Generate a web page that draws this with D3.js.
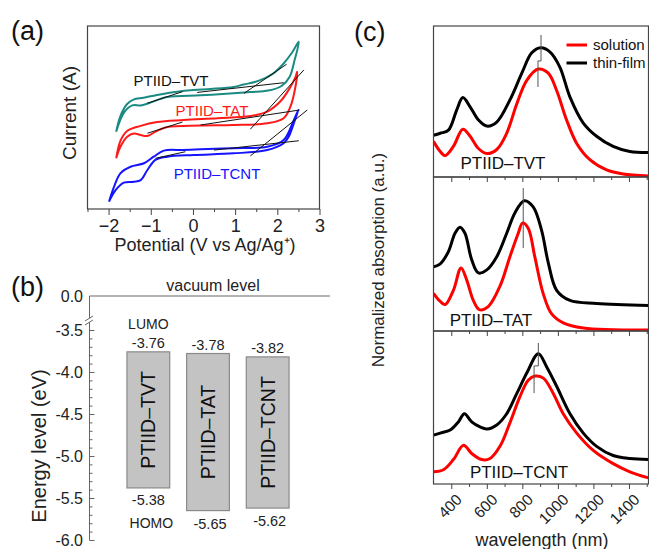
<!DOCTYPE html>
<html><head><meta charset="utf-8">
<script src="https://cdn.jsdelivr.net/npm/d3@7"></script>
<style>body{margin:0;background:#fff}svg{display:block;font-family:"Liberation Sans",Arial,sans-serif}</style>
</head><body>
<svg id="c" width="649" height="549"></svg>
<script>
// ---------- Panel (a): cyclic voltammetry (V, arbitrary current) ----------
const cvTicks = [-2,-1,0,1,2,3];
const tvtForward = [[-1.82,4.22],[-1.72,5.08],[-1.56,5.74],[-1.41,5.98],[-1.17,6.08],[-0.85,6.23],[-0.37,6.41],[0.01,6.50],[0.42,6.56],[0.96,6.67],[1.20,6.80],[1.55,7.00],[1.90,7.40],[2.15,7.95],[2.35,8.55],[2.51,9.14]];
const tvtReverse = [[2.51,9.14],[2.41,8.14],[2.29,7.21],[2.10,6.72],[1.79,6.47],[1.36,6.39],[0.96,6.32],[0.18,6.21],[-0.61,6.12],[-1.05,5.78],[-1.24,5.66],[-1.44,5.66],[-1.64,5.25],[-1.82,4.22]];
const tatForward = [[-1.82,2.77],[-1.72,3.72],[-1.56,4.26],[-1.24,4.54],[-0.85,4.75],[-0.22,4.86],[0.58,4.96],[1.36,5.08],[1.76,5.32],[2.08,5.90],[2.31,6.67],[2.43,7.21],[2.47,7.50]];
const tatReverse = [[2.47,7.50],[2.43,6.68],[2.31,5.59],[2.15,4.96],[1.76,4.68],[0.96,4.59],[0.18,4.56],[-0.61,4.48],[-0.86,4.26],[-1.08,3.99],[-1.24,4.04],[-1.40,4.13],[-1.56,3.95],[-1.72,3.40],[-1.82,2.77]];
const tcntForward = [[-1.99,0.40],[-1.87,1.22],[-1.72,1.95],[-1.48,2.31],[-1.16,2.50],[-0.93,2.86],[-0.69,3.19],[-0.22,3.22],[0.18,3.26],[0.96,3.32],[1.76,3.40],[2.15,3.77],[2.39,4.86],[2.50,5.41]];
const tcntReverse = [[2.50,5.41],[2.39,4.68],[2.27,3.95],[2.15,3.59],[1.76,3.22],[0.96,3.04],[0.02,2.95],[-0.61,2.86],[-0.89,2.68],[-1.08,2.13],[-1.24,1.58],[-1.40,1.49],[-1.64,1.44],[-1.83,1.04],[-1.99,0.40]];
const onsetLines = [
  [[-1.08,5.78],[-0.25,6.41]], [[0.10,6.37],[2.15,6.90]], [[1.21,6.32],[2.22,7.91]],
  [[-1.08,4.14],[-0.25,4.75]], [[0.18,4.59],[2.53,5.41]], [[1.36,4.36],[2.63,7.60]],
  [[-0.89,2.77],[-0.18,3.13]], [[0.50,3.22],[2.51,3.73]], [[1.36,2.90],[2.71,5.41]]
];
const cvNames = ["PTIID\u2013TVT","PTIID\u2013TAT","PTIID\u2013TCNT"];
const cvColors = ["#1b8a82","#ff1a1a","#1414ff"];

// ---------- Panel (b): energy levels ----------
const polymers = ["PTIID\u2013TVT","PTIID\u2013TAT","PTIID\u2013TCNT"];
const lumo = [-3.76,-3.78,-3.82];
const homo = [-5.38,-5.65,-5.62];
const energyTicks = [-3.5,-4.0,-4.5,-5.0,-5.5,-6.0];

// ---------- Panel (c): absorption spectra ----------
const wlTicks = [400,600,800,1000,1200,1400];
const tvtFilmWl = [300,338,384,431,465,506,553,600,656,731,797,853,903,955,1011,1067,1143,1218,1311,1405,1510];
const tvtFilmAbs = [0.41,0.43,0.46,0.66,0.78,0.69,0.56,0.50,0.54,0.76,1.02,1.22,1.27,1.23,1.08,0.79,0.53,0.40,0.30,0.25,0.24];
const tvtSolWl = [300,338,366,412,465,506,553,600,656,712,769,825,890,946,993,1049,1106,1180,1274,1367,1510];
const tvtSolAbs = [0.35,0.25,0.21,0.30,0.47,0.40,0.28,0.23,0.27,0.43,0.72,0.95,1.06,1.02,0.85,0.56,0.33,0.17,0.07,0.03,0.01];
const tatFilmWl = [300,338,384,421,449,477,515,553,600,656,712,758,811,861,908,946,993,1068,1218,1510];
const tatFilmAbs = [0.63,0.66,0.78,0.96,1.02,0.96,0.70,0.57,0.60,0.73,0.96,1.16,1.28,1.22,0.99,0.67,0.40,0.30,0.27,0.25];
const tatSolWl = [300,338,366,412,455,487,524,558,608,674,730,777,801,833,870,917,964,1030,1143,1510];
const tatSolAbs = [0.37,0.29,0.26,0.40,0.62,0.50,0.30,0.21,0.24,0.44,0.73,0.96,1.06,1.01,0.73,0.37,0.17,0.08,0.03,0.01];
const tcntFilmWl = [300,338,394,440,474,515,562,600,656,712,769,825,890,937,993,1068,1143,1218,1311,1405,1510];
const tcntFilmAbs = [0.48,0.50,0.53,0.61,0.69,0.61,0.56,0.54,0.58,0.69,0.89,1.09,1.28,1.15,0.96,0.69,0.50,0.37,0.28,0.25,0.24];
const tcntSolWl = [300,356,412,469,515,571,618,674,730,787,833,871,918,974,1030,1106,1199,1311,1405,1510];
const tcntSolAbs = [0.12,0.14,0.24,0.38,0.30,0.24,0.25,0.37,0.60,0.86,1.02,1.06,1.04,0.89,0.69,0.50,0.33,0.20,0.12,0.06];
// peak markers: [film λ, film top, film bottom, sol λ, sol bottom]
const peakMarks = [[905,1.395,1.14,888,0.884],[805,1.405,1.0,805,0.815],[890,1.385,1.16,866,0.894]];

const svg = d3.select("#c");
const axisCol = "#444";

// ================= Panel (a) =================
{
  const x = d3.scaleLinear([-2.5,3],[87.5,319.5]);
  const y = d3.scaleLinear([0,10],[209,26]);
  const g = svg.append("g");
  g.append("rect").attr("x",87.5).attr("y",26).attr("width",232).attr("height",183)
    .attr("fill","none").attr("stroke",axisCol).attr("stroke-width",1.2);
  const ax = g.append("g").attr("transform","translate(0,209)")
    .call(d3.axisBottom(x).tickValues(cvTicks).tickSize(6).tickPadding(4).tickFormat(d3.format("d")));
  ax.select(".domain").remove();
  ax.selectAll("line").attr("stroke",axisCol);
  ax.selectAll("text").attr("font-size",18).attr("fill","#222").attr("font-family","Liberation Sans, Arial");
  g.append("g").attr("transform","translate(0,209)")
    .call(d3.axisBottom(x).tickValues(d3.range(-2.5,3,1)).tickSize(3).tickFormat(""))
    .call(s=>{s.select(".domain").remove(); s.selectAll("line").attr("stroke",axisCol);});
  const line = d3.line().x(d=>x(d[0])).y(d=>y(d[1])).curve(d3.curveCatmullRom.alpha(0.5));
  const loops = [[tvtForward,tvtReverse],[tatForward,tatReverse],[tcntForward,tcntReverse]];
  loops.forEach((l,i)=>{
    g.append("path").attr("d",line(l[0].concat(l[1].slice(1)))).attr("fill","none")
      .attr("stroke",cvColors[i]).attr("stroke-width",2);
  });
  const ln = d3.line().x(d=>x(d[0])).y(d=>y(d[1]));
  onsetLines.forEach(s=>g.append("path").attr("d",ln(s)).attr("stroke","#111").attr("stroke-width",1).attr("fill","none"));
  const lbl = [[171,86,"#111"],[212,116,"#ff1a1a"],[217,179,"#1414ff"]];
  lbl.forEach((p,i)=>g.append("text").attr("x",p[0]).attr("y",p[1]).attr("text-anchor","middle")
    .attr("font-size",15).attr("fill",p[2]).text(cvNames[i]));
  g.append("text").attr("x",205).attr("y",251).attr("text-anchor","middle").attr("font-size",18).attr("fill","#222")
    .text("Potential (V vs Ag/Ag\u207A)");
  g.append("text").attr("transform","translate(76,113) rotate(-90)").attr("text-anchor","middle")
    .attr("font-size",19).attr("fill","#222").text("Current (A)");
  svg.append("text").attr("x",11).attr("y",40).attr("font-size",27).attr("fill","#111").text("(a)");
}

// ================= Panel (b) =================
{
  const y = d3.scaleLinear([-6,-3.5],[540,330]);
  const g = svg.append("g");
  const ax0 = 89.5;
  g.append("line").attr("x1",ax0).attr("x2",330).attr("y1",296).attr("y2",296).attr("stroke","#9a9a9a").attr("stroke-width",1.5);
  g.append("text").attr("x",213).attr("y",291).attr("text-anchor","middle").attr("font-size",16).attr("fill","#222").text("vacuum level");
  g.append("text").attr("x",83).attr("y",301.5).attr("text-anchor","end").attr("font-size",16).attr("fill","#222").text("0.0");
  g.append("line").attr("x1",ax0).attr("x2",ax0).attr("y1",296).attr("y2",318).attr("stroke","#666");
  g.append("line").attr("x1",ax0).attr("x2",ax0).attr("y1",322).attr("y2",540).attr("stroke","#666");
  g.append("line").attr("x1",85).attr("x2",93).attr("y1",321).attr("y2",316).attr("stroke","#666");
  g.append("line").attr("x1",85).attr("x2",93).attr("y1",325).attr("y2",320).attr("stroke","#666");
  const ay = g.append("g").attr("transform",`translate(${ax0},0)`)
    .call(d3.axisRight(y).tickValues(energyTicks).tickSize(5).tickFormat(""));
  ay.select(".domain").remove(); ay.selectAll("line").attr("stroke","#666");
  const am = g.append("g").attr("transform",`translate(${ax0},0)`)
    .call(d3.axisRight(y).tickValues(d3.range(-6,-3.45,0.1)).tickSize(3).tickFormat(""));
  am.select(".domain").remove(); am.selectAll("line").attr("stroke","#666");
  energyTicks.forEach(v=>g.append("text").attr("x",83).attr("y",y(v)+6).attr("text-anchor","end")
    .attr("font-size",16).attr("fill","#222").text(d3.format(".1f")(v).replace("\u2212","-")));
  g.append("text").attr("transform","translate(46,446) rotate(-90)").attr("text-anchor","middle")
    .attr("font-size",20).attr("fill","#222").text("Energy level (eV)");
  const xb = d3.scaleBand(polymers,[118.5,297.5]).paddingInner(0.2833).paddingOuter(0.1417);
  polymers.forEach((p,i)=>{
    const x0 = xb(p), w = xb.bandwidth(), cx = x0+w/2;
    const yt = y(lumo[i]), yb = y(homo[i]);
    g.append("rect").attr("x",x0).attr("y",yt).attr("width",w).attr("height",yb-yt)
      .attr("fill","#c3c3c3").attr("stroke","#8a8a8a").attr("stroke-width",1.2);
    g.append("text").attr("transform",`translate(${cx+7},${(yt+yb)/2}) rotate(-90)`).attr("text-anchor","middle")
      .attr("font-size",19.5).attr("fill","#111").text(p);
    g.append("text").attr("x",cx).attr("y",yt-4).attr("text-anchor","middle").attr("font-size",14.5).attr("fill","#222").text(lumo[i].toFixed(2));
    g.append("text").attr("x",cx+(i==0?0:2)).attr("y",i==0?yb+17:yb+18).attr("text-anchor","middle").attr("font-size",14.5).attr("fill","#222").text(homo[i].toFixed(2));
  });
  const c0 = xb(polymers[0])+xb.bandwidth()/2;
  g.append("text").attr("x",c0).attr("y",329).attr("text-anchor","middle").attr("font-size",14).attr("fill","#222").text("LUMO");
  g.append("text").attr("x",c0+3).attr("y",528).attr("text-anchor","middle").attr("font-size",14).attr("fill","#222").text("HOMO");
  svg.append("text").attr("x",11).attr("y",296).attr("font-size",27).attr("fill","#111").text("(b)");
}

// ================= Panel (c) =================
{
  const x = d3.scaleLinear([300,1510],[433.5,648.5]);
  const panels = [
    {top:26,bottom:177,film:[tvtFilmWl,tvtFilmAbs],sol:[tvtSolWl,tvtSolAbs],name:"PTIID\u2013TVT",lx:503,ly:169},
    {top:177,bottom:331,film:[tatFilmWl,tatFilmAbs],sol:[tatSolWl,tatSolAbs],name:"PTIID\u2013TAT",lx:491,ly:326},
    {top:331,bottom:484,film:[tcntFilmWl,tcntFilmAbs],sol:[tcntSolWl,tcntSolAbs],name:"PTIID\u2013TCNT",lx:519,ly:478}
  ];
  const g = svg.append("g");
  const clip = svg.append("defs");
  panels.forEach((p,i)=>{
    const y = d3.scaleLinear([0,1],[p.bottom,p.bottom-101.8]);
    clip.append("clipPath").attr("id","cp"+i).append("rect").attr("x",433.5).attr("y",p.top).attr("width",215).attr("height",p.bottom-p.top);
    const pg = g.append("g").attr("clip-path",`url(#cp${i})`);
    const line = d3.line().x(d=>x(d[0])).y(d=>y(d[1])).curve(d3.curveCatmullRom.alpha(0.5));
    pg.append("path").attr("d",line(d3.zip(p.sol[0],p.sol[1]))).attr("fill","none").attr("stroke","#ff0000").attr("stroke-width",3);
    pg.append("path").attr("d",line(d3.zip(p.film[0],p.film[1]))).attr("fill","none").attr("stroke","#000").attr("stroke-width",3);
    const m = peakMarks[i];
    const mp = d3.path();
    mp.moveTo(x(m[0]),y(m[1])); mp.lineTo(x(m[0]),y(m[2])); mp.lineTo(x(m[3]),y(m[2])); mp.lineTo(x(m[3]),y(m[4]));
    pg.append("path").attr("d",mp.toString()).attr("fill","none").attr("stroke","#555").attr("stroke-width",1);
    g.append("rect").attr("x",433.5).attr("y",p.top).attr("width",215).attr("height",p.bottom-p.top)
      .attr("fill","none").attr("stroke",axisCol).attr("stroke-width",1.2);
    const ax = g.append("g").attr("transform",`translate(0,${p.bottom})`)
      .call(d3.axisBottom(x).tickValues(wlTicks).tickSize(5).tickFormat(""));
    ax.select(".domain").remove(); ax.selectAll("line").attr("stroke",axisCol);
    const am = g.append("g").attr("transform",`translate(0,${p.bottom})`)
      .call(d3.axisBottom(x).tickValues(d3.range(500,1600,200)).tickSize(3).tickFormat(""));
    am.select(".domain").remove(); am.selectAll("line").attr("stroke",axisCol);
    g.append("text").attr("x",p.lx).attr("y",p.ly).attr("text-anchor","middle").attr("font-size",17).attr("fill","#111").text(p.name);
  });
  wlTicks.forEach(t=>g.append("text").attr("transform",`translate(${x(t)+4},${493}) rotate(-45)`)
    .attr("text-anchor","end").attr("dy","0.7em").attr("font-size",15.5).attr("fill","#222").text(t));
  g.append("text").attr("x",542).attr("y",546).attr("text-anchor","middle").attr("font-size",18).attr("fill","#222").text("wavelength (nm)");
  g.append("text").attr("transform","translate(384,260) rotate(-90)").attr("text-anchor","middle")
    .attr("font-size",17).attr("fill","#222").text("Normalized absorption (a.u.)");
  const leg = [["solution","#ff0000",45],["thin-film","#000",63]];
  leg.forEach(l=>{
    g.append("line").attr("x1",566.5).attr("x2",587).attr("y1",l[2]).attr("y2",l[2]).attr("stroke",l[1]).attr("stroke-width",3);
    g.append("text").attr("x",593).attr("y",l[2]+5).attr("font-size",15).attr("fill","#111").text(l[0]);
  });
  svg.append("text").attr("x",354).attr("y",41).attr("font-size",27).attr("fill","#111").text("(c)");
}
</script>
</body></html>
